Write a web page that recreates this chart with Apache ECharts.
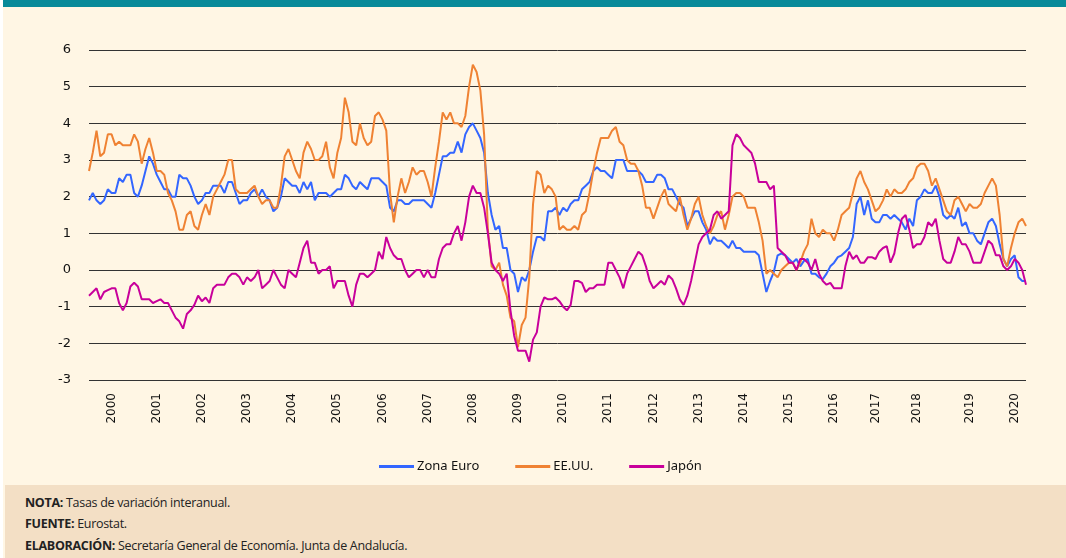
<!DOCTYPE html>
<html>
<head>
<meta charset="utf-8">
<title>IPC Zona Euro, EE.UU. y Japón</title>
<script src="https://cdn.jsdelivr.net/npm/echarts@6/dist/echarts.min.js"></script>
<style>
  html, body { margin: 0; padding: 0; width: 1066px; height: 558px; background: #fff; overflow: hidden; }
  .marco { position: absolute; left: 3px; top: 0; width: 1063px; height: 558px; background: #fff6e4; }
  .barra { position: absolute; left: 3px; top: 0; width: 1063px; height: 7px; background: #088a99; }
  #grafico { position: absolute; left: 0; top: 0; width: 1066px; height: 485px; }
  .pie {
    position: absolute; left: 5px; top: 485px; width: 1061px; height: 73px;
    background: #f3dfc5; color: #222;
    font-family: 'Open Sans', 'Noto Sans', sans-serif; font-size: 12.5px;
  }
  .pie p { margin: 0; position: absolute; left: 20px; white-space: nowrap; letter-spacing: -0.3px; }
  .pie b { font-weight: 700; }
</style>
</head>
<body>
<div class="marco"></div>
<div class="barra"></div>
<div id="grafico"></div>
<div class="pie">
  <p style="top:9px"><b>NOTA:</b> Tasas de variación interanual.</p>
  <p style="top:30px"><b>FUENTE:</b> Eurostat.</p>
  <p style="top:52px"><b>ELABORACIÓN:</b> Secretaría General de Economía. Junta de Andalucía.</p>
</div>
<script>
  // meses: enero 2000 - octubre 2020
  var meses = [];
  for (var a = 2000; a <= 2020; a++) {
    for (var m = 1; m <= 12; m++) {
      if (a == 2020 && m > 10) break;
      meses.push(a + '-' + (m < 10 ? '0' + m : m));
    }
  }

  // etiquetas de año y la posicion (mes) donde aparecen
  var anios = ['2000', '2001', '2002', '2003', '2004', '2005', '2006', '2007', '2008', '2009', '2010',
    '2011', '2012', '2013', '2014', '2015', '2016', '2017', '2018', '2019', '2020'];
  var posAnios = [6, 18, 30, 42, 54, 66, 78, 90, 102, 114, 126, 138, 150, 162, 174, 186, 198, 209, 220, 234, 246];

  var zonaEuro = [
    1.9, 2.1, 1.9, 1.8, 1.9, 2.2, 2.1, 2.1, 2.5, 2.4, 2.6, 2.6,
    2.1, 2.0, 2.3, 2.7, 3.1, 2.9, 2.6, 2.4, 2.2, 2.2, 2.0, 2.0,
    2.6, 2.5, 2.5, 2.3, 2.0, 1.8, 1.9, 2.1, 2.1, 2.3, 2.3, 2.3,
    2.1, 2.4, 2.4, 2.1, 1.8, 1.9, 1.9, 2.1, 2.2, 2.0, 2.2, 2.0,
    1.9, 1.6, 1.7, 2.0, 2.5, 2.4, 2.3, 2.3, 2.1, 2.4, 2.2, 2.4,
    1.9, 2.1, 2.1, 2.1, 2.0, 2.1, 2.2, 2.2, 2.6, 2.5, 2.3, 2.2,
    2.4, 2.3, 2.2, 2.5, 2.5, 2.5, 2.4, 2.3, 1.7, 1.6, 1.9, 1.9,
    1.8, 1.8, 1.9, 1.9, 1.9, 1.9, 1.8, 1.7, 2.1, 2.6, 3.1, 3.1,
    3.2, 3.2, 3.5, 3.2, 3.7, 3.9, 4.0, 3.8, 3.6, 3.2, 2.1, 1.5,
    1.1, 1.2, 0.6, 0.6, 0.0, -0.1, -0.6, -0.2, -0.3, 0.0, 0.5, 0.9,
    0.9, 0.8, 1.6, 1.6, 1.7, 1.5, 1.7, 1.6, 1.8, 1.9, 1.9, 2.2,
    2.3, 2.4, 2.7, 2.8, 2.7, 2.7, 2.6, 2.5, 3.0, 3.0, 3.0, 2.7,
    2.7, 2.7, 2.7, 2.6, 2.4, 2.4, 2.4, 2.6, 2.6, 2.5, 2.2, 2.2,
    2.0, 1.8, 1.7, 1.2, 1.4, 1.6, 1.6, 1.3, 1.1, 0.7, 0.9, 0.8,
    0.8, 0.7, 0.6, 0.8, 0.6, 0.6, 0.5, 0.5, 0.5, 0.5, 0.4, -0.1,
    -0.6, -0.3, -0.05, 0.4, 0.45, 0.4, 0.3, 0.2, 0.3, 0.1, 0.25, 0.3,
    -0.1, -0.1, -0.2, -0.25, -0.1, 0.1, 0.2, 0.35, 0.4, 0.5, 0.6, 0.9,
    1.8, 2.0, 1.5, 1.9, 1.4, 1.3, 1.3, 1.5, 1.5, 1.4, 1.5, 1.4,
    1.3, 1.1, 1.4, 1.2, 1.9, 2.0, 2.2, 2.1, 2.1, 2.3, 2.0, 1.5,
    1.4, 1.5, 1.4, 1.7, 1.2, 1.3, 1.0, 1.0, 0.8, 0.7, 1.0, 1.3,
    1.4, 1.2, 0.7, 0.3, 0.1, 0.3, 0.4, -0.2, -0.3, -0.3
  ];

  var eeuu = [
    2.7, 3.2, 3.8, 3.1, 3.2, 3.7, 3.7, 3.4, 3.5, 3.4, 3.4, 3.4,
    3.7, 3.5, 2.9, 3.3, 3.6, 3.2, 2.7, 2.7, 2.6, 2.1, 1.9, 1.6,
    1.1, 1.1, 1.5, 1.6, 1.2, 1.1, 1.5, 1.8, 1.5, 2.0, 2.2, 2.4,
    2.6, 3.0, 3.0, 2.2, 2.1, 2.1, 2.1, 2.2, 2.3, 2.0, 1.8, 1.9,
    1.9, 1.7, 1.7, 2.3, 3.1, 3.3, 3.0, 2.7, 2.5, 3.2, 3.5, 3.3,
    3.0, 3.0, 3.1, 3.5, 2.8, 2.5, 3.2, 3.6, 4.7, 4.3, 3.5, 3.4,
    4.0, 3.6, 3.4, 3.5, 4.2, 4.3, 4.1, 3.8, 2.1, 1.3, 2.0, 2.5,
    2.1, 2.4, 2.8, 2.6, 2.7, 2.7, 2.4, 2.0, 2.8, 3.5, 4.3, 4.1,
    4.3, 4.0, 4.0, 3.9, 4.2, 5.0, 5.6, 5.4, 4.9, 3.7, 1.1, 0.1,
    0.0, 0.2, -0.4, -0.7, -1.3, -1.4, -2.1, -1.5, -1.3, -0.2, 1.8, 2.7,
    2.6, 2.1, 2.3, 2.2, 2.0, 1.1, 1.2, 1.1, 1.1, 1.2, 1.1, 1.5,
    1.6, 2.1, 2.7, 3.2, 3.6, 3.6, 3.6, 3.8, 3.9, 3.5, 3.4, 3.0,
    2.9, 2.9, 2.7, 2.3, 1.7, 1.7, 1.4, 1.7, 2.0, 2.2, 1.8, 1.7,
    1.6, 2.0, 1.5, 1.1, 1.4, 1.8, 2.0, 1.5, 1.2, 1.0, 1.2, 1.5,
    1.6, 1.1, 1.5, 2.0, 2.1, 2.1, 2.0, 1.7, 1.7, 1.7, 1.3, 0.8,
    -0.1, 0.0, -0.1, -0.2, 0.0, 0.1, 0.2, 0.2, 0.0, 0.2, 0.5, 0.7,
    1.4, 1.0, 0.9, 1.1, 1.0, 1.0, 0.8, 1.1, 1.5, 1.6, 1.7, 2.1,
    2.5, 2.7, 2.4, 2.2, 1.9, 1.6, 1.7, 1.9, 2.2, 2.0, 2.2, 2.1,
    2.1, 2.2, 2.4, 2.5, 2.8, 2.9, 2.9, 2.7, 2.3, 2.5, 2.2, 1.9,
    1.6, 1.5, 1.9, 2.0, 1.8, 1.6, 1.8, 1.7, 1.7, 1.8, 2.1, 2.3,
    2.5, 2.3, 1.5, 0.3, 0.1, 0.6, 1.0, 1.3, 1.4, 1.2
  ];

  var japon = [
    -0.7, -0.6, -0.5, -0.8, -0.6, -0.55, -0.5, -0.5, -0.9, -1.1, -0.9, -0.45,
    -0.35, -0.45, -0.8, -0.8, -0.8, -0.9, -0.85, -0.8, -0.9, -0.9, -1.1, -1.3,
    -1.4, -1.6, -1.2, -1.1, -0.95, -0.7, -0.85, -0.75, -0.9, -0.5, -0.4, -0.4,
    -0.4, -0.2, -0.1, -0.1, -0.2, -0.4, -0.2, -0.3, -0.2, 0.0, -0.5, -0.4,
    -0.3, 0.0, -0.2, -0.4, -0.5, 0.0, -0.1, -0.2, 0.2, 0.6, 0.8, 0.2,
    0.2, -0.1, 0.0, 0.0, 0.1, -0.5, -0.3, -0.3, -0.3, -0.7, -1.0, -0.4,
    -0.1, -0.1, -0.2, -0.1, 0.0, 0.5, 0.3, 0.9, 0.6, 0.4, 0.3, 0.3,
    0.0, -0.2, -0.1, 0.0, 0.0, -0.2, 0.0, -0.2, -0.2, 0.3, 0.6, 0.7,
    0.7, 1.0, 1.2, 0.8, 1.3, 2.0, 2.3, 2.1, 2.1, 1.7, 1.0, 0.2,
    0.0, -0.1, -0.3, -0.1, -1.1, -1.8, -2.2, -2.2, -2.2, -2.5, -1.9, -1.7,
    -1.0, -0.75, -0.8, -0.8, -0.75, -0.85, -1.0, -1.1, -0.95, -0.3, -0.3, -0.35,
    -0.6, -0.5, -0.5, -0.4, -0.4, -0.4, 0.2, 0.2, 0.0, -0.2, -0.5, -0.1,
    0.1, 0.3, 0.5, 0.4, 0.1, -0.3, -0.5, -0.4, -0.3, -0.4, -0.15, -0.25,
    -0.5, -0.8, -0.95, -0.7, -0.3, 0.2, 0.7, 0.9, 1.0, 1.1, 1.5, 1.6,
    1.4, 1.5, 1.6, 3.4, 3.7, 3.6, 3.4, 3.3, 3.2, 2.9, 2.4, 2.4,
    2.4, 2.2, 2.3, 0.6, 0.5, 0.4, 0.2, 0.2, 0.0, 0.3, 0.3, 0.2,
    0.0, 0.3, -0.1, -0.3, -0.4, -0.35, -0.5, -0.5, -0.5, 0.1, 0.5, 0.3,
    0.4, 0.2, 0.2, 0.35, 0.35, 0.3, 0.5, 0.6, 0.65, 0.2, 0.45, 1.0,
    1.4, 1.5, 1.1, 0.6, 0.7, 0.7, 0.9, 1.3, 1.2, 1.4, 0.8, 0.3,
    0.2, 0.2, 0.5, 0.9, 0.7, 0.7, 0.5, 0.2, 0.2, 0.2, 0.5, 0.8,
    0.7, 0.4, 0.4, 0.1, 0.0, 0.1, 0.3, 0.2, 0.0, -0.4
  ];

  var chart = echarts.init(document.getElementById('grafico'));

  function serie(nombre, datos, color) {
    return {
      name: nombre,
      type: 'line',
      data: datos,
      showSymbol: false,
      symbol: 'none',
      lineStyle: { width: 2, color: color },
      itemStyle: { color: color },
      animation: false
    };
  }

  var options = {
    backgroundColor: 'transparent',
    animation: false,
    grid: { left: 89, right: 40, top: 50, bottom: 105 },
    legend: {
      data: ['Zona Euro', 'EE.UU.', 'Japón'],
      left: 374,
      top: 455,
      icon: 'rect',
      itemWidth: 35,
      itemHeight: 3,
      itemGap: 36,
      textStyle: { fontFamily: 'Noto Sans', fontSize: 13, color: '#111', padding: [0, 0, 0, -2] }
    },
    xAxis: {
      type: 'category',
      data: meses,
      boundaryGap: false,
      axisLine: { show: false },
      axisTick: { show: false },
      splitLine: { show: false },
      axisLabel: {
        rotate: 90,
        margin: 13,
        fontFamily: 'DejaVu Sans',
        fontSize: 12,
        color: '#111',
        interval: function (idx) { return posAnios.indexOf(idx) >= 0; },
        formatter: function (val, idx) {
          var k = posAnios.indexOf(idx);
          return k >= 0 ? anios[k] : '';
        }
      }
    },
    yAxis: {
      type: 'value',
      min: -3,
      max: 6,
      interval: 1,
      axisLine: { show: false },
      axisTick: { show: false },
      axisLabel: { margin: 18, fontFamily: 'DejaVu Sans', fontSize: 13, color: '#111' },
      splitLine: { show: true, lineStyle: { color: '#333', width: 1 } }
    },
    series: [
      serie('Zona Euro', zonaEuro, '#3366ff'),
      serie('EE.UU.', eeuu, '#ef8233'),
      serie('Japón', japon, '#c8009b')
    ]
  };
  chart.setOption(options);
</script>
</body>
</html>
